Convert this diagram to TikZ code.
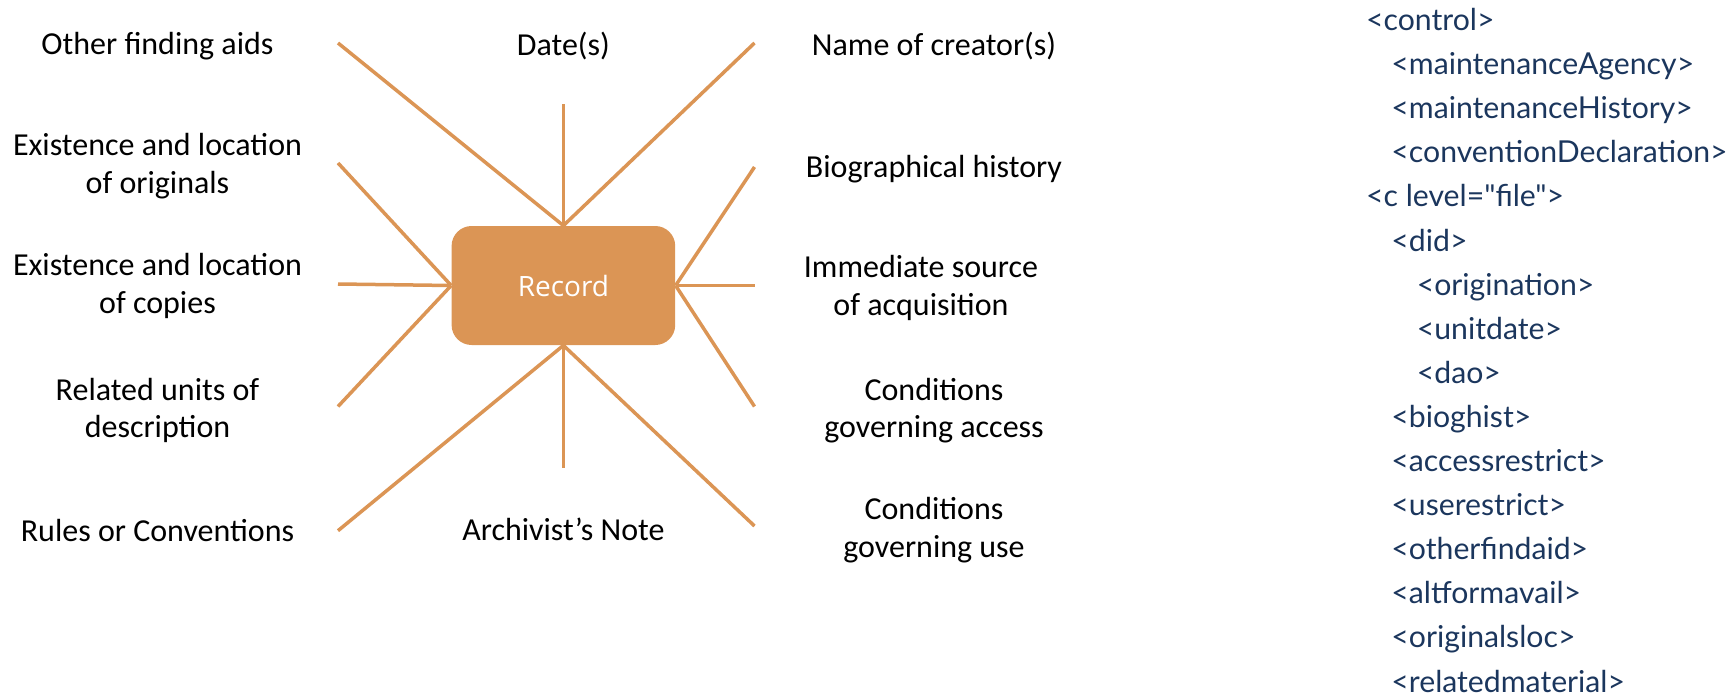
\documentclass[tikz,border=0pt]{standalone}
\usepackage{fontspec}
\setmainfont{Carlito}
\newfontfamily\xmlfont{Lato}
\newfontfamily\recfont{Open Sans}
\definecolor{tan}{HTML}{DB9555}
\definecolor{navy}{HTML}{1B365D}
\tikzset{
  spoke/.style={draw=tan, line width=1.75pt},
  lbl/.style={anchor=base, align=center, inner sep=0pt, font=\fontsize{16}{18.8}\selectfont},
  xml/.style={anchor=base west, inner sep=0pt, text=navy, font=\xmlfont\fontsize{15.1}{17}\selectfont},
  recbox/.style={fill=tan, draw=none, rounded corners=10pt, minimum width=111.8pt, minimum height=59.5pt, text=white, font=\recfont\fontsize{14}{16}\selectfont}
}
\begin{document}
\begin{tikzpicture}[x=0.5pt, y=-0.5pt]
\useasboundingbox (0,0) rectangle (1727,696);
% spokes
\node[recbox] (rec) at (563.4,285.5) {Record};
\coordinate (ul) at (338,43);
\coordinate (uv) at (563.4,104);
\coordinate (ur) at (754.5,43);
\coordinate (l2) at (338,163);
\coordinate (l3) at (338,284);
\coordinate (l4) at (338,406.5);
\coordinate (bl) at (338,530.7);
\coordinate (bv) at (563.4,467.5);
\coordinate (br) at (754.5,526);
\coordinate (r2) at (754.5,167);
\coordinate (r3) at (754.5,285.5);
\coordinate (r4) at (754.5,406.5);
\draw[spoke] (ul) -- (rec.north);
\draw[spoke] (uv) -- (rec.north);
\draw[spoke] (ur) -- (rec.north);
\draw[spoke] (l2) -- (rec.west);
\draw[spoke] (l3) -- (rec.west);
\draw[spoke] (l4) -- (rec.west);
\draw[spoke] (bl) -- (rec.south);
\draw[spoke] (bv) -- (rec.south);
\draw[spoke] (br) -- (rec.south);
\draw[spoke] (r2) -- (rec.east);
\draw[spoke] (r3) -- (rec.east);
\draw[spoke] (r4) -- (rec.east);
% labels (base anchor = baseline of last line)
\node[lbl] (t1) at (157.5,54.3) {Other finding aids};
\node[lbl] (t2) at (563.4,55) {Date(s)};
\node[lbl] (t3) at (934,55) {Name of creator(s)};
\node[lbl] (t4) at (157.5,193.3) {Existence and location\\of originals};
\node[lbl] (t5) at (934,177) {Biographical history};
\node[lbl] (t6) at (157.5,313.3) {Existence and location\\of copies};
\node[lbl] (t7) at (921,315.2) {Immediate source\\of acquisition};
\node[lbl] (t8) at (157.5,437.7) {Related units of\\description};
\node[lbl] (t9) at (934,437.7) {Conditions\\governing access};
\node[lbl] (t10) at (157.5,541.7) {Rules or Conventions};
\node[lbl] (t11) at (563.4,540) {Archivist’s Note};
\node[lbl] (t12) at (934,557.5) {Conditions\\governing use};
% xml listing
\node[xml] (x1) at (1365.7,30.5) {<control>};
\node[xml] (x2) at (1391,74.6) {<maintenanceAgency>};
\node[xml] (x3) at (1391,118.7) {<maintenanceHistory>};
\node[xml] (x4) at (1391,162.8) {<conventionDeclaration>};
\node[xml] (x5) at (1365.7,206.9) {<c level="file">};
\node[xml] (x6) at (1391,251) {<did>};
\node[xml] (x7) at (1416.4,295.1) {<origination>};
\node[xml] (x8) at (1416.4,339.2) {<unitdate>};
\node[xml] (x9) at (1416.4,383.3) {<dao>};
\node[xml] (x10) at (1391,427.4) {<bioghist>};
\node[xml] (x11) at (1391,471.5) {<accessrestrict>};
\node[xml] (x12) at (1391,515.6) {<userestrict>};
\node[xml] (x13) at (1391,559.7) {<otherfindaid>};
\node[xml] (x14) at (1391,603.8) {<altformavail>};
\node[xml] (x15) at (1391,647.9) {<originalsloc>};
\node[xml] (x16) at (1391,692) {<relatedmaterial>};
\end{tikzpicture}
\end{document}
